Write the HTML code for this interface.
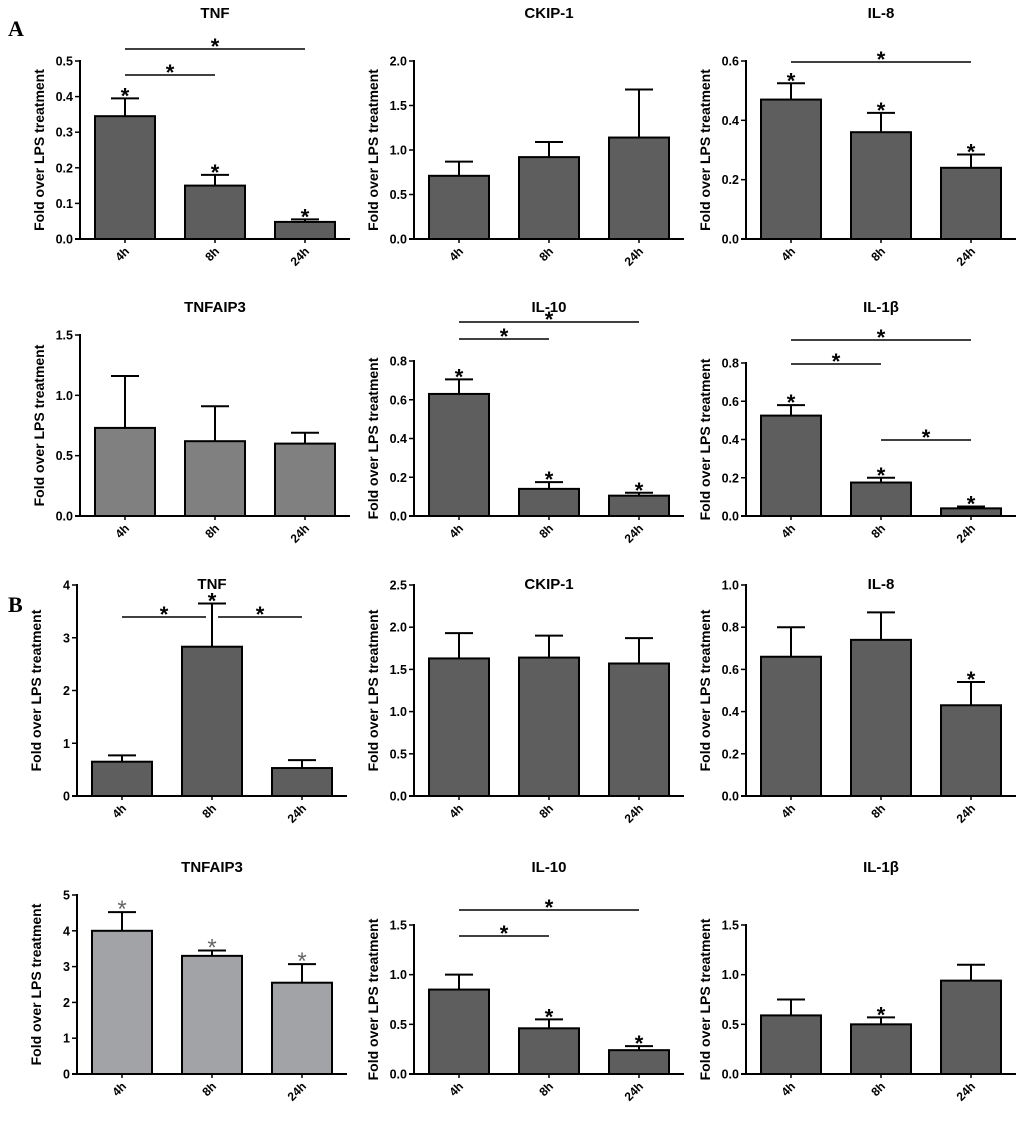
<!DOCTYPE html>
<html><head><meta charset="utf-8"><style>
body{margin:0;background:#fff;}
svg{display:block;font-family:"Liberation Sans",sans-serif;}
</style></head><body>
<svg id="fig" width="1024" height="1122" viewBox="0 0 1024 1122">
<text x="8" y="36" font-family="Liberation Serif" font-weight="bold" font-size="22">A</text>
<text x="8" y="612" font-family="Liberation Serif" font-weight="bold" font-size="22">B</text>
</svg>
<script>
const categories = ["4h","8h","24h"];
const titles = ["TNF","CKIP-1","IL-8","TNFAIP3","IL-10","IL-1β","TNF","CKIP-1","IL-8","TNFAIP3","IL-10","IL-1β"];
const means = [[0.345,0.15,0.048],[0.71,0.92,1.14],[0.47,0.36,0.24],[0.73,0.62,0.60],[0.63,0.14,0.105],[0.525,0.175,0.04],
 [0.65,2.83,0.53],[1.63,1.64,1.57],[0.66,0.74,0.43],[4.0,3.3,2.55],[0.85,0.46,0.24],[0.59,0.5,0.94]];
const errors = [[0.05,0.03,0.007],[0.16,0.17,0.54],[0.055,0.065,0.045],[0.43,0.29,0.09],[0.075,0.035,0.015],[0.055,0.025,0.01],
 [0.12,0.82,0.15],[0.3,0.26,0.3],[0.14,0.13,0.11],[0.52,0.15,0.52],[0.15,0.09,0.04],[0.16,0.07,0.16]];
const yMax = [0.5,2.0,0.6,1.5,0.8,0.8,4,2.5,1.0,5,1.5,1.5];
const tickStep = [0.1,0.5,0.2,0.5,0.2,0.2,1,0.5,0.2,1,0.5,0.5];
const tickDec = [1,1,1,1,1,1,0,1,1,0,1,1];
const barStars = [[1,1,1],[0,0,0],[1,1,1],[0,0,0],[1,1,1],[1,1,1],[0,1,0],[0,0,0],[0,0,1],[1,1,1],[0,1,1],[0,1,0]];
const sigPairs = [[[0,2,49],[0,1,75]],[],[[0,2,62]],[],[[0,1,339],[0,2,322]],[[0,2,340],[0,1,364],[1,2,440]],
 [[0,1,617],[1,2,617]],[],[],[],[[0,1,936],[0,2,910]],[]];
const barColors = ["#5e5e5e","#5e5e5e","#5e5e5e","#808080","#5e5e5e","#5e5e5e","#5e5e5e","#5e5e5e","#5e5e5e","#a2a3a7","#5e5e5e","#5e5e5e"];
const axisX=[80,414,746], rowTop=[61,335,585,895], rowBot=[239,516,796,1074];
const topOverride={4:361,5:363,10:925,11:925};
const titleY=[18,312,589,872];
const NS="http://www.w3.org/2000/svg", svg=document.getElementById('fig');
function mk(tag,attrs,parent){const e=document.createElementNS(NS,tag);for(const k in attrs)e.setAttribute(k,attrs[k]);(parent||svg).appendChild(e);return e;}
for(let p=0;p<12;p++){
  const r=Math.floor(p/3), c=p%3, ax=axisX[c]+(r>=2&&c==0?-3:0);
  const top=topOverride[p]!==undefined?topOverride[p]:rowTop[r], bot=rowBot[r];
  const y=v=>bot-(v/yMax[p])*(bot-top);
  const xc=i=>ax+45+i*90;
  const g=mk('g',{});
  
  
  const t=mk('text',{x:ax+135,y:titleY[r],'text-anchor':'middle','font-weight':'bold','font-size':15},g);t.textContent=titles[p];
  
  const yl=mk('text',{transform:`translate(${ax-36},${(top+bot)/2}) rotate(-90)`,'text-anchor':'middle','font-weight':'bold','font-size':14},g);yl.textContent="Fold over LPS treatment";
  
  for(let i=0;i<3;i++){
    const m=means[p][i],e=errors[p][i];
    const ey=y(m+e);
    const el=mk('line',{x1:xc(i),x2:xc(i),y1:y(m),y2:ey,stroke:'#000','stroke-width':2},g);
    
    mk('line',{x1:xc(i)-14,x2:xc(i)+14,y1:ey,y2:ey,stroke:'#000','stroke-width':2},g);
    const b=mk('rect',{x:xc(i)-30,y:y(m),width:60,height:bot-y(m),fill:barColors[p],stroke:'#000','stroke-width':2},g);
    
    if(barStars[p][i]){const s=mk('text',{x:xc(i),y:ey+5,'text-anchor':'middle','font-weight':p==9?'normal':'bold','font-size':p==9?24:22,fill:p==9?'#666':'#000'},g);s.textContent='*';
      }
    const xl=mk('text',{transform:`translate(${xc(i)+5},${bot+13}) rotate(-45)`,'text-anchor':'end','font-weight':'bold','font-size':12},g);xl.textContent=categories[i];
    
    mk('line',{x1:xc(i),x2:xc(i),y1:bot,y2:bot+4,stroke:'#000','stroke-width':1.5},g);
  }
  const ya=mk('line',{x1:ax,x2:ax,y1:top-1,y2:bot,stroke:'#000','stroke-width':2},g);
  const xa=mk('line',{x1:ax-5,x2:ax+270,y1:bot,y2:bot,stroke:'#000','stroke-width':2},g);
  const n=Math.round(yMax[p]/tickStep[p]);
  for(let k=0;k<=n;k++){const v=k*tickStep[p];
    mk('line',{x1:ax-5,x2:ax,y1:y(v),y2:y(v),stroke:'#000','stroke-width':1.5},g);
    const tl=mk('text',{x:ax-7,y:y(v)+4.5,'text-anchor':'end','font-weight':'bold','font-size':12.5},g);tl.textContent=v.toFixed(tickDec[p]);
    }
  for(const sp of sigPairs[p]){
    const x1=xc(sp[0])+(sp[0]==1&&p==6?6:0), x2=xc(sp[1])-(sp[1]==1&&p==6?6:0);
    const l=mk('line',{x1:x1,x2:x2,y1:sp[2],y2:sp[2],stroke:'#000','stroke-width':1.5},g);
    
    const s=mk('text',{x:(x1+x2)/2,y:sp[2]+5,'text-anchor':'middle','font-weight':'bold','font-size':22},g);s.textContent='*';
    
  }
}
</script>
</body></html>
